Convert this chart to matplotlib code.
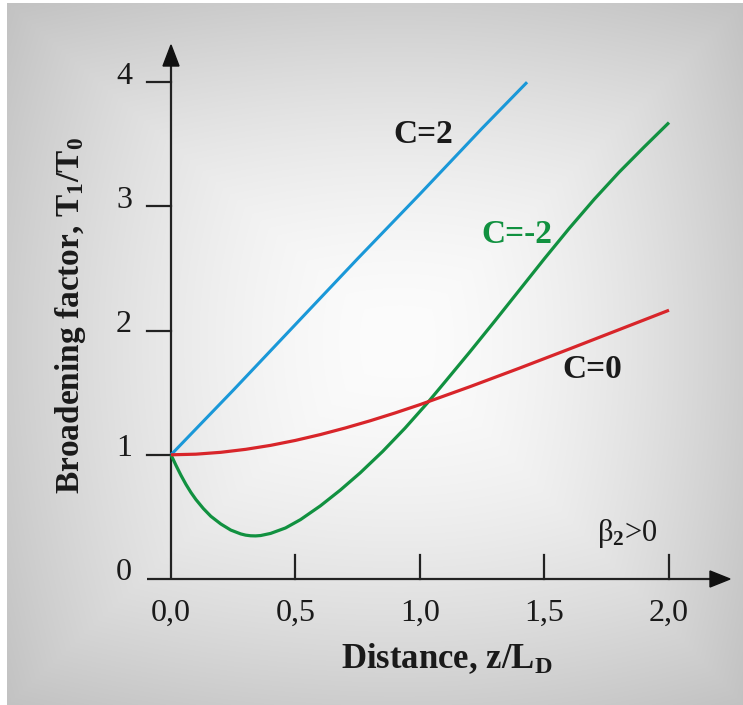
import numpy as np
import matplotlib
matplotlib.use("Agg")
import matplotlib.pyplot as plt
from matplotlib.patches import Polygon

# ---------------- data ----------------
x_c2 = [0.0, 0.25, 0.5, 0.75, 1.0, 1.25, 1.43]
y_c2 = [1.0, 1.52, 2.05, 2.58, 3.10, 3.63, 4.0]

x_c0 = [0.0, 0.1, 0.2, 0.3, 0.4, 0.5, 0.6, 0.7, 0.8, 0.9, 1.0, 1.2, 1.4, 1.6, 1.8, 2.0]
y_c0 = [1.0, 1.005, 1.02, 1.044, 1.076, 1.116, 1.163, 1.216, 1.274, 1.337, 1.404,
        1.548, 1.698, 1.852, 2.008, 2.164]

x_cm2 = [0.0, 0.02, 0.04, 0.06, 0.08, 0.10, 0.13, 0.16, 0.20, 0.24, 0.28, 0.30, 0.32,
         0.34, 0.36, 0.40, 0.46, 0.52, 0.60, 0.68, 0.76, 0.85, 0.94, 1.03, 1.10, 1.20,
         1.30, 1.40, 1.50, 1.60, 1.70, 1.80, 1.90, 2.0]
y_cm2 = [1.0, 0.915, 0.835, 0.762, 0.697, 0.640, 0.567, 0.505, 0.443, 0.394, 0.363,
         0.353, 0.348, 0.347, 0.350, 0.367, 0.411, 0.478, 0.589, 0.716, 0.855, 1.027,
         1.215, 1.418, 1.586, 1.828, 2.076, 2.328, 2.580, 2.825, 3.058, 3.276, 3.478,
         3.675]

x_ticks = [0.0, 0.5, 1.0, 1.5, 2.0]
x_tick_labels = ["0,0", "0,5", "1,0", "1,5", "2,0"]
y_ticks = [0, 1, 2, 3, 4]
y_tick_labels = ["0", "1", "2", "3", "4"]

# ---------------- figure ----------------
W, H = 743, 705
plt.rcParams['mathtext.fontset'] = 'custom'
plt.rcParams['mathtext.rm'] = 'Liberation Serif'
plt.rcParams['mathtext.it'] = 'Liberation Serif:italic'
plt.rcParams['mathtext.bf'] = 'Liberation Serif:bold'
SERIF = ['Liberation Serif', 'DejaVu Serif']

fig = plt.figure(figsize=(W / 100, H / 100), dpi=100, facecolor='white')
ax = fig.add_axes([0, 0, 1, 1])
ax.set_axis_off()

# pixel geometry: x=0 at px 171, 249 px per unit; y=0 at px 579, 124.2 px per unit
X0, SX = 171.0, 249.0
Y0, SY = 579.0, 124.2
xmin, xmax = -X0 / SX, (W - X0) / SX
ymin, ymax = (Y0 - H) / SY, Y0 / SY
ax.set_xlim(xmin, xmax)
ax.set_ylim(ymin, ymax)

def px2x(p):
    return (p - X0) / SX

def px2y(p):
    return (Y0 - p) / SY

# background gradient (light centre, grey edges), white strip left/top
left_px, top_px = 7, 3
gx = np.arange(left_px, W)
gy = np.arange(top_px, H)
GX, GY = np.meshgrid(gx, gy)
cx, cy = 400.0, 340.0
dx = np.where(GX < cx, (cx - GX) / (cx - left_px), (GX - cx) / (W - cx))
dy = np.where(GY < cy, (cy - GY) / (cy - top_px), (GY - cy) / (H - cy))
dmax = np.maximum(dx, dy)
deuc = np.sqrt(dx ** 2 + dy ** 2) / np.sqrt(2)
d = 0.6 * dmax + 0.4 * deuc
v = (252 - 58 * d ** 1.7) / 255.0
img = np.dstack([v, v, v])
ax.imshow(img, extent=[px2x(left_px), px2x(W), px2y(H), px2y(top_px)],
          aspect='auto', zorder=0, interpolation='bilinear')

axis_col = '#222222'
# axes lines
ax.plot([px2x(147), px2x(712)], [0, 0], color=axis_col, lw=1.6, zorder=2,
        solid_capstyle='butt')
ax.plot([0, 0], [0, px2y(62)], color=axis_col, lw=1.6, zorder=2, solid_capstyle='butt')
# arrow heads
ax.add_patch(Polygon([[px2x(730), 0], [px2x(710), px2y(579 - 8)], [px2x(710), px2y(579 + 8)]],
                     closed=True, color='#111111', zorder=3))
ax.add_patch(Polygon([[0, px2y(45)], [px2x(171 - 8), px2y(66)], [px2x(171 + 8), px2y(66)]],
                     closed=True, color='#111111', zorder=3))
# ticks
for yt in y_ticks[1:]:
    ax.plot([px2x(147), 0], [yt, yt], color=axis_col, lw=1.6, zorder=2)
for xt in x_ticks[1:]:
    ax.plot([xt, xt], [0, px2y(555)], color=axis_col, lw=1.6, zorder=2)

# tick labels
for xt, lab in zip(x_ticks, x_tick_labels):
    ax.text(xt, px2y(621), lab, ha='center', va='baseline', fontsize=23,
            family=SERIF, color='#1a1a1a')
for yt, lab in zip(y_ticks, y_tick_labels):
    ax.text(px2x(132), yt + 6 / SY, lab, ha='right', va='center', fontsize=23,
            family=SERIF, color='#1a1a1a')

# curves
ax.plot(x_c2, y_c2, color='#1a98d8', lw=2.2, zorder=4, solid_capstyle='butt')
ax.plot(x_c0, y_c0, color='#d8252a', lw=2.3, zorder=5, solid_capstyle='butt')
ax.plot(x_cm2, y_cm2, color='#119140', lw=2.3, zorder=4, solid_capstyle='butt',
        solid_joinstyle='round')

# curve labels
ax.text(px2x(423), px2y(134), 'C=2', ha='center', va='center', fontsize=24,
        fontweight='bold', family=SERIF, color='#1a1a1a')
ax.text(px2x(517), px2y(234), 'C=-2', ha='center', va='center', fontsize=24,
        fontweight='bold', family=SERIF, color='#119140')
ax.text(px2x(592), px2y(369), 'C=0', ha='center', va='center', fontsize=24,
        fontweight='bold', family=SERIF, color='#1a1a1a')
ax.text(px2x(627), px2y(533), r'$\mathrm{β}_{\mathbf{2}}$>0', ha='center', va='center',
        fontsize=22, family=SERIF, color='#1a1a1a')

# axis titles
ax.text(px2x(447), px2y(668), r'Distance, z/L$_{\mathbf{D}}$', ha='center', va='baseline',
        fontsize=25, fontweight='bold', family=SERIF, color='#1a1a1a')
ax.text(px2x(71), px2y(316), r'Broadening factor, T$_{\mathbf{1}}$/T$_{\mathbf{0}}$',
        ha='center', va='center', rotation=90, fontsize=24, fontweight='bold',
        family=SERIF, color='#1a1a1a')

fig.savefig('out.png', dpi=100, facecolor='white')
